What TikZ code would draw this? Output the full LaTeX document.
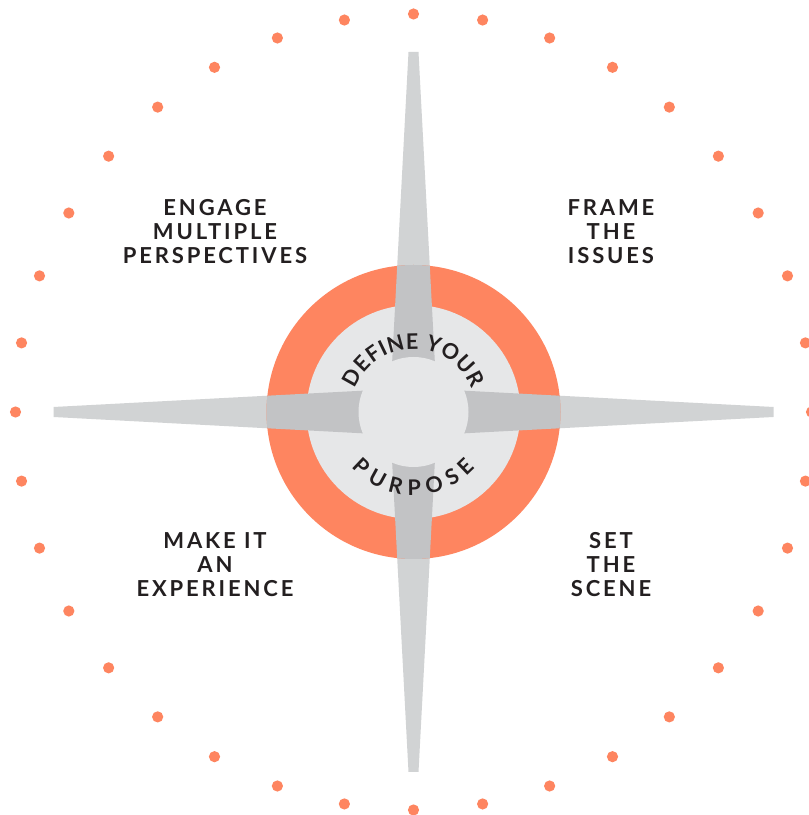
\documentclass[tikz,border=0pt]{standalone}
\usepackage{fontspec}
\usetikzlibrary{decorations.text}
\newfontfamily\labelfont{Lato}[LetterSpace=13]
\newfontfamily\arcfont{Lato}
\newcommand\curvefont{\arcfont\bfseries\fontsize{21.5}{26}\selectfont\color{ink}}
\definecolor{ringorange}{HTML}{FE8560}
\definecolor{armlight}{HTML}{D1D3D4}
\definecolor{armdark}{HTML}{C2C3C5}
\definecolor{disc}{HTML}{E6E7E8}
\definecolor{ink}{HTML}{231F20}
\begin{document}
\begin{tikzpicture}[x=1pt,y=1pt,
  caption/.style={font=\labelfont\bfseries\fontsize{22}{24}\selectfont,
    text=ink, align=center, inner sep=0pt, anchor=north},
  arm/.style={shift={(C)}, rotate=#1}]
\useasboundingbox[fill=white] (0,0) rectangle (809,815);
\coordinate (C) at (413.5,403);

% ring of dots
\foreach \k in {0,...,35}
  \fill[ringorange] (C) ++(\k*10:398) circle (5.6);

% compass arms
\foreach \a in {0,90,180,270}
  \fill[armlight, arm=\a] (0,24) -- (360,5) -- (360,-5) -- (0,-24) -- cycle;

% orange ring and inner disc
\fill[ringorange] (C) circle (147);
\fill[disc] (C) circle (107);

% arms seen through the ring, darker
\begin{scope}
  \clip (C) circle (147);
  \foreach \a in {0,90,180,270}
    \fill[armdark, arm=\a] (0,24) -- (360,5) -- (360,-5) -- (0,-24) -- cycle;
\end{scope}

% hub
\fill[disc] (C) circle (55);

% curved titles
\path[decorate, decoration={text along path, text={|\curvefont|DEFINE YOUR},
  text align=fit to path}]
  (C) ++(158:63) arc[start angle=158, end angle=22, radius=63];
\path[decorate, decoration={text along path, text={|\curvefont|PURPOSE},
  text align=fit to path}]
  (C) ++(222:83) arc[start angle=222, end angle=318, radius=83];

% quadrant captions
\node[caption] (engage) at (215,615.5) {ENGAGE\\MULTIPLE\\PERSPECTIVES};
\node[caption] (frame) at (611,615.5) {FRAME\\THE\\ISSUES};
\node[caption] (make) at (215,282.5) {MAKE IT\\AN\\EXPERIENCE};
\node[caption] (scene) at (611,282.5) {SET\\THE\\SCENE};
\end{tikzpicture}
\end{document}
